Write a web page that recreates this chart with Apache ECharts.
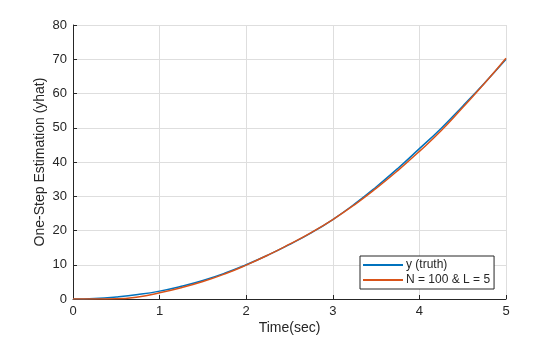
<!DOCTYPE html>
<html>
<head>
<meta charset="utf-8">
<script src="https://cdn.jsdelivr.net/npm/echarts@6/dist/echarts.min.js"></script>
<style>
html,body{margin:0;padding:0;background:#fff;}
#c{width:560px;height:337px;}
</style>
</head>
<body>
<div id="c"></div>
<script>
var time = [0,0.25,0.5,0.75,1,1.25,1.5,1.75,2,2.25,2.5,2.75,3,3.25,3.5,3.75,4,4.25,4.5,4.75,5];
var truth = [0,0.15,0.6,1.3,2.3,3.7,5.4,7.5,10.0,12.8,15.9,19.3,23.2,27.7,32.7,38.1,43.9,49.8,56.3,63.0,70.0];
var est = [0,0,0.05,0.6,1.8,3.3,5.1,7.3,9.9,12.8,16.0,19.4,23.2,27.5,32.3,37.5,43.1,49.1,55.9,62.9,70.3];
var xTicks = [0,1,2,3,4,5];
var yTicks = [0,10,20,30,40,50,60,70,80];
var names = ['y (truth)', 'N = 100 & L = 5'];

function pairs(ys){ return time.map(function(t,i){ return [t, ys[i]]; }); }

var txt = '#262626';
var font = 'Liberation Sans, Arial, sans-serif';
var chart = echarts.init(document.getElementById('c'), null, {renderer:'canvas'});
chart.setOption({
  animation:false,
  backgroundColor:'#fff',
  grid:{left:73, right:54, top:25, bottom:38, containLabel:false, outerBoundsMode:'none'},
  xAxis:{
    type:'value', min:xTicks[0], max:xTicks[xTicks.length-1], interval:1,
    name:'Time(sec)', nameLocation:'middle', nameGap:22, nameMoveOverlap:false,
    nameTextStyle:{color:txt, fontSize:14, fontFamily:font},
    axisLine:{show:true, lineStyle:{color:txt, width:1}},
    axisTick:{show:true, inside:true, length:4, lineStyle:{color:txt}},
    axisLabel:{color:txt, fontSize:13, fontFamily:font, margin:6},
    splitLine:{show:true, lineStyle:{color:'#dedede', width:1}}
  },
  yAxis:{
    type:'value', min:yTicks[0], max:yTicks[yTicks.length-1], interval:10,
    name:'One-Step Estimation (yhat)', nameLocation:'middle', nameGap:26, nameMoveOverlap:false,
    nameTextStyle:{color:txt, fontSize:14, fontFamily:font},
    axisLine:{show:true, lineStyle:{color:txt, width:1}},
    axisTick:{show:true, inside:true, length:4, lineStyle:{color:txt}},
    axisLabel:{color:txt, fontSize:13, fontFamily:font, margin:6},
    splitLine:{show:true, lineStyle:{color:'#dedede', width:1}}
  },
  legend:{
    orient:'vertical', left:360, top:256,
    data:names,
    itemWidth:40, itemHeight:2, itemGap:3,
    padding:[3,4,3,3],
    borderColor:txt, borderWidth:1, backgroundColor:'#fff',
    textStyle:{color:txt, fontSize:12, fontFamily:font, padding:[0,0,0,-2]},
    icon:'rect'
  },
  series:[
    {name:names[0], type:'line', data:pairs(truth), symbol:'none', smooth:true,
     lineStyle:{color:'#0072BD', width:1.5}, itemStyle:{color:'#0072BD'}},
    {name:names[1], type:'line', data:pairs(est), symbol:'none', smooth:true,
     lineStyle:{color:'#D95319', width:1.5}, itemStyle:{color:'#D95319'}}
  ]
});
</script>
</body>
</html>
